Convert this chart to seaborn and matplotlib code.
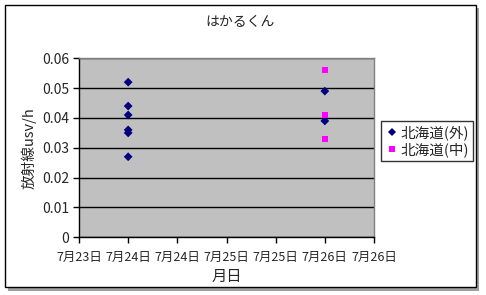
import matplotlib
matplotlib.use("Agg")
import matplotlib.pyplot as plt
import seaborn as sns
import pandas as pd
from matplotlib.patches import Rectangle

sns.set_theme(style="white")
plt.rcParams['font.family'] = ['Noto Sans CJK JP', 'DejaVu Sans']

tick_labels = ["7月23日", "7月24日", "7月24日", "7月25日", "7月25日", "7月26日", "7月26日"]
series_out_x = [1, 1, 1, 1, 1, 1, 5, 5]
series_out_y = [0.052, 0.044, 0.041, 0.036, 0.035, 0.027, 0.049, 0.039]
series_in_x = [5, 5, 5]
series_in_y = [0.056, 0.041, 0.033]
names = ["北海道(外)", "北海道(中)"]

df = pd.DataFrame({
    "x": series_out_x + series_in_x,
    "y": series_out_y + series_in_y,
    "series": [names[0]] * len(series_out_x) + [names[1]] * len(series_in_x),
})

fig = plt.figure(figsize=(4.86, 2.95), dpi=100)
W, H = 486, 295
# chart border + shadow
fig.patches.append(Rectangle((8 / W, 1 - 291 / H), 471 / W, 283 / H, transform=fig.transFigure,
                             facecolor="#a0a0a0", edgecolor="none", zorder=-2))
fig.patches.append(Rectangle((5 / W, 1 - 287 / H), 471 / W, 282 / H, transform=fig.transFigure,
                             facecolor="white", edgecolor="black", linewidth=1, zorder=-1))

ax = fig.add_axes([79 / W, 1 - 237.3 / H, 295 / W, 179 / H])
ax.set_facecolor("#c0c0c0")
sns.scatterplot(data=df, x="x", y="y", hue="series", style="series",
                palette={names[0]: "#000080", names[1]: "#ff00ff"},
                markers={names[0]: "D", names[1]: "s"},
                s=20, linewidth=0, ax=ax, legend=True)

ax.set_xlim(0, 6)
ax.set_ylim(0, 0.06)
ax.set_xticks(range(7))
ax.set_xticklabels(tick_labels, fontsize=9)
ax.set_yticks([0, 0.01, 0.02, 0.03, 0.04, 0.05, 0.06])
ax.set_yticklabels(["0", "0.01", "0.02", "0.03", "0.04", "0.05", "0.06"], fontsize=10)
ax.grid(axis="y", color="black", linewidth=1)
ax.set_axisbelow(True)
ax.tick_params(axis="x", direction="out", length=4, width=1, color="black", pad=6)
ax.tick_params(axis="y", direction="out", length=4, width=1, color="black", pad=3)
ax.xaxis.set_ticks_position("bottom")
ax.yaxis.set_ticks_position("left")
for s in ["left", "bottom"]:
    ax.spines[s].set_color("black")
    ax.spines[s].set_linewidth(1)
for s in ["top", "right"]:
    ax.spines[s].set_color("#808080")
    ax.spines[s].set_linewidth(1)

ax.set_xlabel("月日", fontsize=11, labelpad=3)
ax.set_ylabel("放射線usv/h", fontsize=10.5, labelpad=4)
fig.text(0.5 * (5 + 476) / W, 1 - 22 / H, "はかるくん", ha="center", va="center", fontsize=10)

leg = ax.legend(loc="center left", bbox_to_anchor=(381 / W, 1 - 141 / H),
                bbox_transform=fig.transFigure, frameon=True, fancybox=False,
                edgecolor="black", fontsize=10.5, borderpad=0.25, handletextpad=0.1,
                handlelength=1.0, labelspacing=0.15, borderaxespad=0)
leg.get_frame().set_linewidth(1)
leg.set_title(None)

fig.savefig("out.png", dpi=100)
